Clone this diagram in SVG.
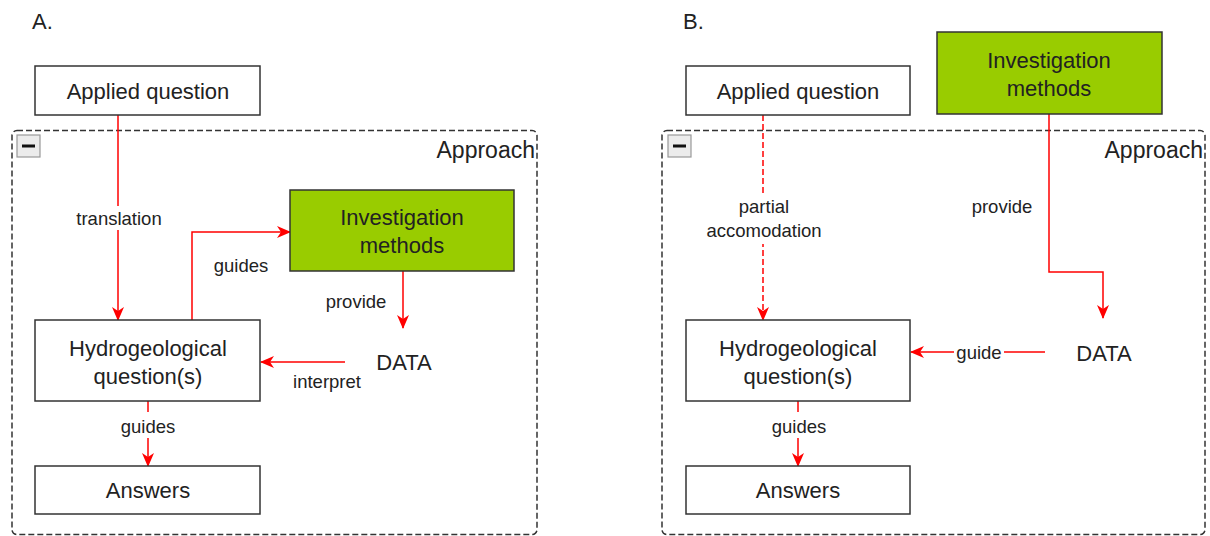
<svg xmlns="http://www.w3.org/2000/svg" width="1210" height="536" viewBox="0 0 1210 536">
  <style>
    text { font-family: "Liberation Sans", Arial, sans-serif; fill: #222; }
    .node { fill: #ffffff; stroke: #333333; stroke-width: 1.5; }
    .green { fill: #99cc00; stroke: #333333; stroke-width: 1.5; }
    .group { fill: none; stroke: #333333; stroke-width: 1.5; stroke-dasharray: 6 3; }
    .ntext { font-size: 22px; text-anchor: middle; }
    .lbl { font-size: 18.5px; text-anchor: middle; }
    .title { font-size: 22px; }
    .approach { font-size: 23px; text-anchor: end; }
    .edge { fill: none; stroke: #ff0000; stroke-width: 1.5; marker-end: url(#arr); }
    .dashed { stroke-dasharray: 6 3; }
    .bg { fill: #ffffff; }
    .toggle { fill: #ececec; stroke: #999999; stroke-width: 1.2; }
  </style>
  <defs>
    <marker id="arr" markerWidth="14" markerHeight="12" refX="13" refY="6" orient="auto" markerUnits="userSpaceOnUse">
      <path d="M0,0 L14,6 L0,12 L4,6 z" fill="#ff0000"/>
    </marker>
  </defs>

  <rect width="1210" height="536" fill="#ffffff"/>

  <!-- Panel A -->
  <text class="title" x="32" y="29">A.</text>
  <g id="approachA">
    <rect class="group" x="12" y="130.5" width="525" height="404" rx="5"/>
    <rect class="toggle" x="17" y="135" width="23" height="22"/>
    <rect x="22" y="144.5" width="13" height="3" fill="#111"/>
    <text class="approach" x="535" y="158">Approach</text>
  </g>

  <g id="connectorsA">
    <path class="edge" d="M118,115 V320"/>
    <path class="edge" d="M192,320 V232 H290"/>
    <path class="edge" d="M403,271 V328"/>
    <path class="edge" d="M345,362 H261"/>
    <path class="edge" d="M148,401 V466"/>
    <rect class="bg" x="74" y="206" width="90" height="24"/>
    <text class="lbl" x="119" y="225">translation</text>
    <text class="lbl" x="241" y="272">guides</text>
    <text class="lbl" x="356" y="308">provide</text>
    <text class="lbl" x="327" y="388">interpret</text>
    <rect class="bg" x="118" y="412" width="60" height="26"/>
    <text class="lbl" x="148" y="433">guides</text>
  </g>

  <g id="appliedA">
    <rect class="node" x="35" y="66" width="225" height="49"/>
    <text class="ntext" x="148" y="99">Applied question</text>
  </g>
  <g id="methodsA">
    <rect class="green" x="290" y="190" width="224" height="81"/>
    <text class="ntext" x="402" y="225">Investigation</text>
    <text class="ntext" x="402" y="253">methods</text>
  </g>
  <g id="dataA">
    <text class="ntext" x="404" y="370">DATA</text>
  </g>
  <g id="hydroA">
    <rect class="node" x="35" y="320" width="225" height="81"/>
    <text class="ntext" x="148" y="356">Hydrogeological</text>
    <text class="ntext" x="148" y="384">question(s)</text>
  </g>
  <g id="answersA">
    <rect class="node" x="35" y="466" width="225" height="48"/>
    <text class="ntext" x="148" y="498">Answers</text>
  </g>

  <!-- Panel B -->
  <text class="title" x="683" y="29">B.</text>
  <g id="approachB">
    <rect class="group" x="662" y="130.5" width="543" height="404" rx="5"/>
    <rect class="toggle" x="668" y="135" width="23" height="22"/>
    <rect x="673" y="144.5" width="13" height="3" fill="#111"/>
    <text class="approach" x="1203" y="158">Approach</text>
  </g>

  <g id="connectorsB">
    <path class="edge dashed" d="M763,115 V320"/>
    <path class="edge" d="M1049,114 V272 H1103 V318"/>
    <path class="edge" d="M1045,352 H911"/>
    <path class="edge" d="M798,401 V466"/>
    <rect class="bg" x="700" y="194" width="126" height="50"/>
    <text class="lbl" x="764" y="213">partial</text>
    <text class="lbl" x="764" y="237">accomodation</text>
    <text class="lbl" x="1002" y="213">provide</text>
    <rect class="bg" x="954" y="340" width="50" height="24"/>
    <text class="lbl" x="979" y="359">guide</text>
    <rect class="bg" x="768" y="412" width="60" height="26"/>
    <text class="lbl" x="799" y="433">guides</text>
  </g>

  <g id="appliedB">
    <rect class="node" x="686" y="66" width="224" height="49"/>
    <text class="ntext" x="798" y="99">Applied question</text>
  </g>
  <g id="methodsB">
    <rect class="green" x="937" y="32" width="225" height="82"/>
    <text class="ntext" x="1049" y="68">Investigation</text>
    <text class="ntext" x="1049" y="96">methods</text>
  </g>
  <g id="dataB">
    <text class="ntext" x="1104" y="361">DATA</text>
  </g>
  <g id="hydroB">
    <rect class="node" x="686" y="320" width="224" height="81"/>
    <text class="ntext" x="798" y="356">Hydrogeological</text>
    <text class="ntext" x="798" y="384">question(s)</text>
  </g>
  <g id="answersB">
    <rect class="node" x="686" y="466" width="224" height="48"/>
    <text class="ntext" x="798" y="498">Answers</text>
  </g>
</svg>
